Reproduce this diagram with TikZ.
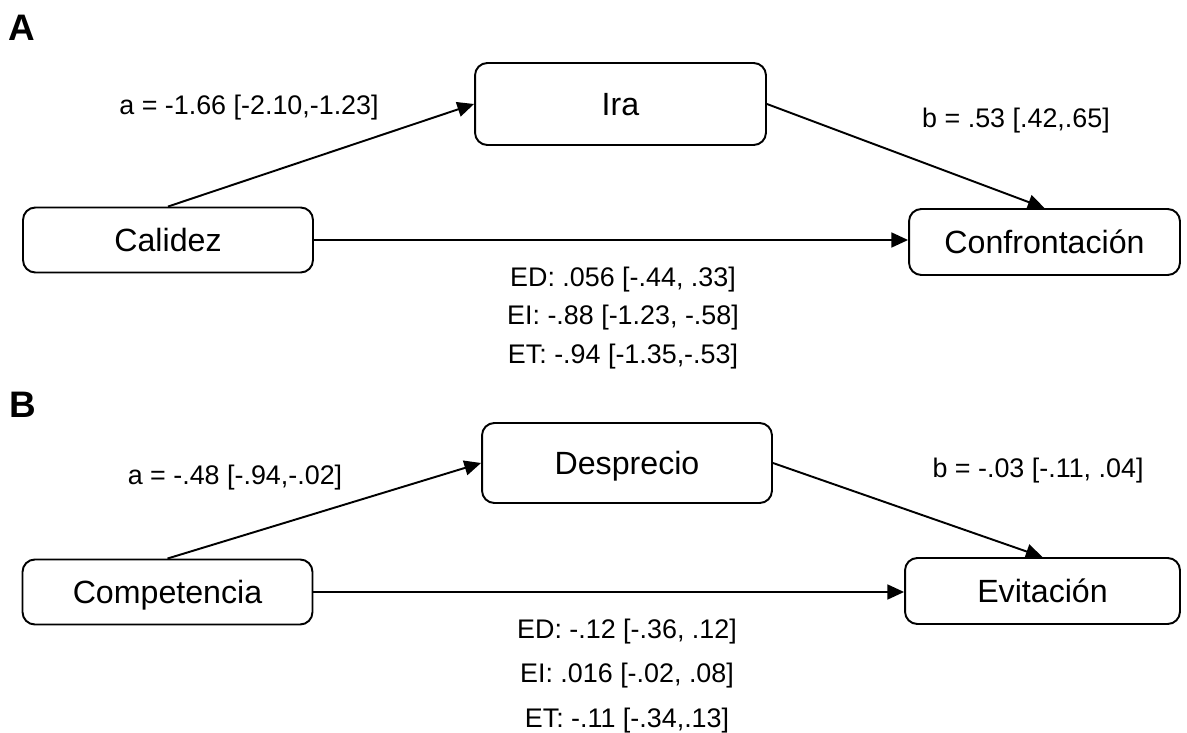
\documentclass[tikz,border=0pt]{standalone}
\usepackage{fontspec}
\setmainfont{Liberation Sans}
\usetikzlibrary{arrows.meta}

\tikzset{
  box/.style={draw, rounded corners=7pt, line width=1.1pt, inner sep=0pt,
    minimum width=5.8cm, minimum height=1.3cm, text height=13.1pt, text depth=0pt,
    font=\fontsize{18.3}{22}\selectfont},
  link/.style={line width=1.1pt, -{Triangle[length=9.5pt,width=8.5pt]}},
  lbl/.style={inner sep=0pt, text height=11pt, text depth=0pt, font=\fontsize{15.3}{18}\selectfont},
  eff/.style={align=center, font=\fontsize{15.3}{#1}\selectfont},
  panel/.style={font=\fontsize{21}{24}\selectfont\bfseries}
}

\begin{document}
\begin{tikzpicture}[x=0.02cm, y=-0.02cm]
  \useasboundingbox (0,0) rectangle (1187,733); % page size
  % panel A
  \node[panel] (pA) at (22,28) {A};
  \node[box] (cal) at (168,240) {Calidez};
  \node[box, minimum width=5.82cm, minimum height=1.64cm] (ira) at (620.5,104) {Ira};
  \node[box, minimum width=5.42cm, minimum height=1.32cm] (conf) at (1044.5,242) {Confrontación};
  \draw[link] (cal.north) -- (ira.west);
  \draw[link] (ira.east) -- (conf.north);
  \draw[link] (cal.east) -- (cal.east -| conf.west);
  \node[lbl] (la) at (249,105) {a = -1.66 [-2.10,-1.23]};
  \node[lbl] (lb) at (1016,118) {b = .53 [.42,.65]};
  \node[eff=21.9] (effA) at (623,318)
    {ED: .056 [-.44, .33]\\EI: -.88 [-1.23, -.58]\\ET: -.94 [-1.35,-.53]};
  % panel B
  \node[panel] (pB) at (23,405) {B};
  \node[box] (comp) at (167.5,592) {Competencia};
  \node[box, minimum height=1.6cm] (desp) at (627,463) {Desprecio};
  \node[box, minimum width=5.5cm, minimum height=1.32cm] (evit) at (1042.5,591) {Evitación};
  \draw[link] (comp.north) -- (desp.west);
  \draw[link] (desp.east) -- (evit.north);
  \draw[link] (comp.east) -- (comp.east -| evit.west);
  \node[lbl] (lc) at (235,475) {a = -.48 [-.94,-.02]};
  \node[lbl] (ld) at (1038,468) {b = -.03 [-.11, .04]};
  \node[eff=25.5] (effB) at (627,676)
    {ED: -.12 [-.36, .12]\\EI: .016 [-.02, .08]\\ET: -.11 [-.34,.13]};
\end{tikzpicture}
\end{document}
